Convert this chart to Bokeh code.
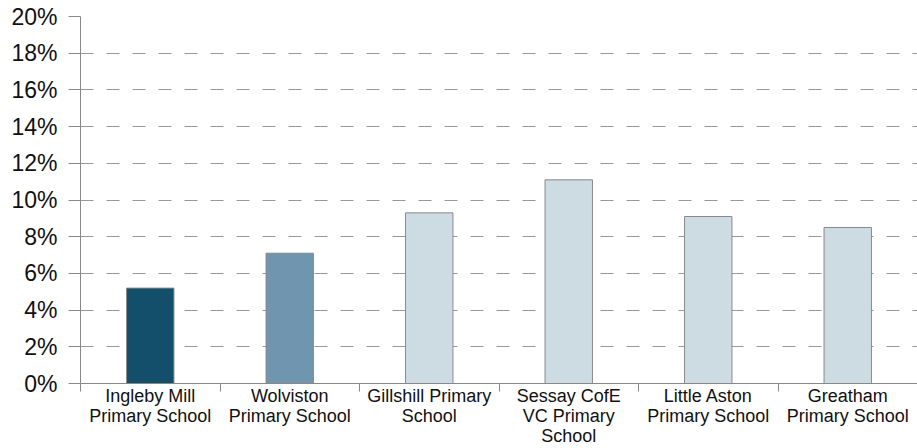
from bokeh.plotting import figure
from bokeh.models import FixedTicker, NumeralTickFormatter, ColumnDataSource, Range1d
from bokeh.embed import file_html
from bokeh.resources import INLINE

categories = ["Ingleby Mill Primary School", "Wolviston Primary School",
              "Gillshill Primary School", "Sessay CofE VC Primary School",
              "Little Aston Primary School", "Greatham Primary School"]
tick_labels = ["Ingleby Mill\nPrimary School", "Wolviston\nPrimary School",
               "Gillshill Primary\nSchool", "Sessay CofE\nVC Primary\nSchool",
               "Little Aston\nPrimary School", "Greatham\nPrimary School"]
values = [0.052, 0.071, 0.093, 0.111, 0.091, 0.085]
colors = ["#134f6a", "#7095ae", "#cddbe3", "#cddbe3", "#cddbe3", "#cddbe3"]
y_ticks = [0, 0.02, 0.04, 0.06, 0.08, 0.10, 0.12, 0.14, 0.16, 0.18, 0.20]

n = len(categories)
centers = [i + 0.5 for i in range(n)]
bounds = [float(i) for i in range(n + 1)]

src = ColumnDataSource(dict(x=centers, top=values, color=colors, name=categories))

p = figure(width=917, height=448, output_backend="svg", toolbar_location=None,
           x_range=Range1d(0, n), y_range=Range1d(0, 0.20),
           min_border_left=80, min_border_right=0, min_border_top=16,
           min_border_bottom=64)
p.outline_line_color = None
p.background_fill_color = "white"

p.vbar(x="x", top="top", bottom=0, width=0.34, fill_color="color",
       line_color="#8a8a8a", line_width=1, source=src)

# x axis
xa = p.xaxis[0]
xa.ticker = FixedTicker(ticks=centers, minor_ticks=bounds)
xa.major_label_overrides = {c: t for c, t in zip(centers, tick_labels)}
xa.major_tick_out = 0
xa.major_tick_in = 0
xa.minor_tick_out = 8
xa.minor_tick_in = 0
xa.minor_tick_line_color = "#888888"
xa.axis_line_color = "#888888"
xa.major_label_standoff = -6
xa.major_label_text_font = "Liberation Sans"
xa.major_label_text_font_size = "18px"
xa.major_label_text_color = "#111111"
xa.major_label_text_line_height = 1.0

# y axis
ya = p.yaxis[0]
ya.ticker = FixedTicker(ticks=y_ticks)
ya.formatter = NumeralTickFormatter(format="0%")
ya.major_tick_out = 12
ya.major_tick_in = 0
ya.minor_tick_out = 0
ya.minor_tick_in = 0
ya.major_tick_line_color = "#888888"
ya.axis_line_color = "#888888"
ya.major_label_standoff = 11
ya.major_label_text_font = "Liberation Sans"
ya.major_label_text_font_size = "23px"
ya.major_label_text_color = "#111111"

p.xgrid.grid_line_color = None
p.ygrid.grid_line_color = "#999999"
p.ygrid.grid_line_dash = "13 13"
p.ygrid.grid_line_width = 1

open("out.html", "w").write(file_html(p, INLINE))
